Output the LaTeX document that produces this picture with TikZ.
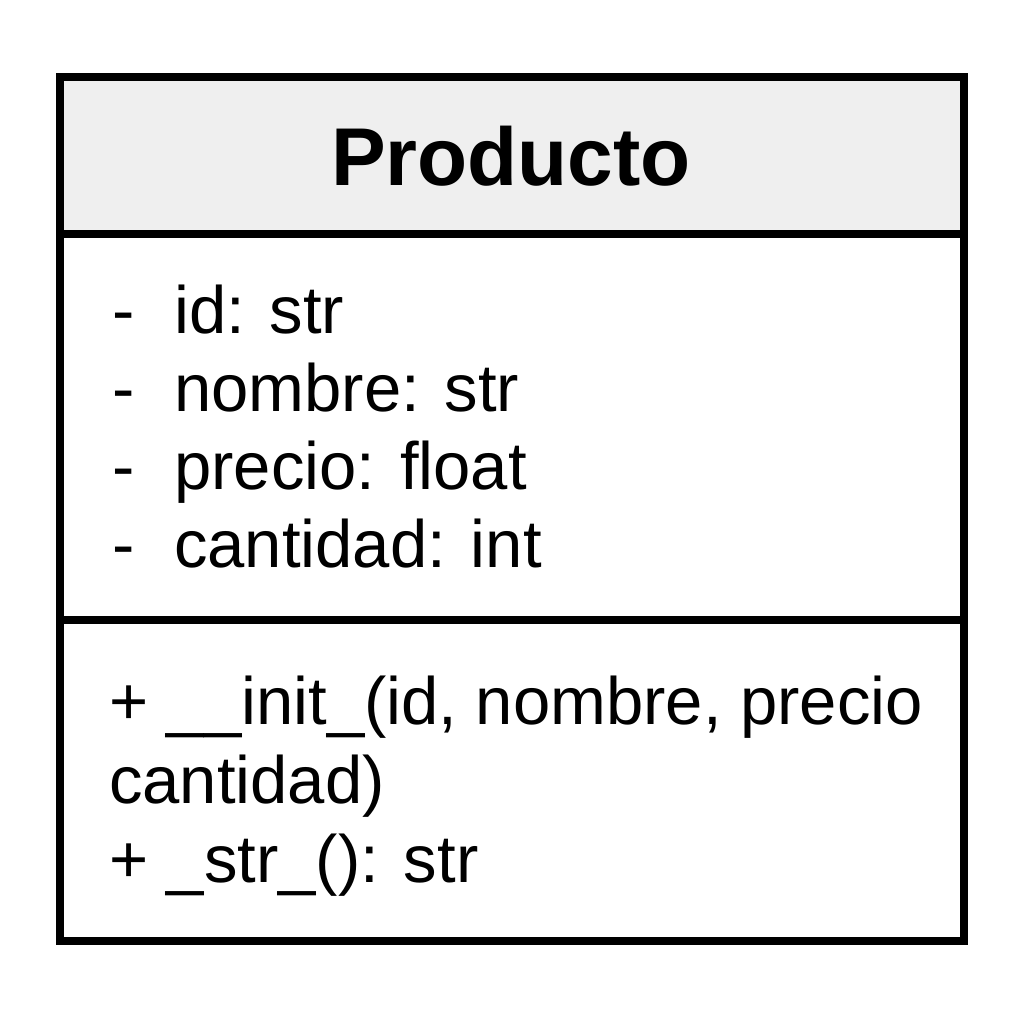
\documentclass[tikz,border=0pt]{standalone}
\usepackage{fontspec}
\setmainfont{Liberation Sans}
\definecolor{headfill}{HTML}{EFEFEF}
\tikzset{
  boxline/.style={line width=8pt, draw=black},
  titletext/.style={anchor=base, inner sep=0pt, font=\fontsize{82}{90}\selectfont\bfseries},
  itemtext/.style={anchor=base west, inner sep=0pt, font=\fontsize{67}{78}\selectfont},
}
\begin{document}
\begin{tikzpicture}[x=1pt,y=-1pt]
\useasboundingbox (0,0) rectangle (1024,1024);
\fill[white] (0,0) rectangle (1024,1024);
\coordinate (tl) at (60,77);
\coordinate (br) at (964,941);
\coordinate (h1) at (60,234);
\coordinate (h2) at (964,234);
\coordinate (s1) at (60,620);
\coordinate (s2) at (964,620);
\fill[headfill] (tl) rectangle (h2);
\draw[boxline] (tl) rectangle (br);
\draw[boxline] (h1) -- (h2);
\draw[boxline] (s1) -- (s2);
\node[titletext] (title) at (511,186) {Producto};
% attributes
\node[itemtext] (d1) at (112,333) {-};
\node[itemtext] (a1) at (174,333) {id: str};
\node[itemtext] (d2) at (112,411) {-};
\node[itemtext] (a2) at (174,411) {nombre: str};
\node[itemtext] (d3) at (112,489) {-};
\node[itemtext] (a3) at (174,489) {precio: float};
\node[itemtext] (d4) at (112,567) {-};
\node[itemtext] (a4) at (174,567) {cantidad: int};
% methods
\node[itemtext] (m1) at (109,724) {+ \_\_init\_(id, nombre, precio};
\node[itemtext] (m2) at (109,803) {cantidad)};
\node[itemtext] (m3) at (109,882) {+ \_str\_(): str};
\end{tikzpicture}
\end{document}
